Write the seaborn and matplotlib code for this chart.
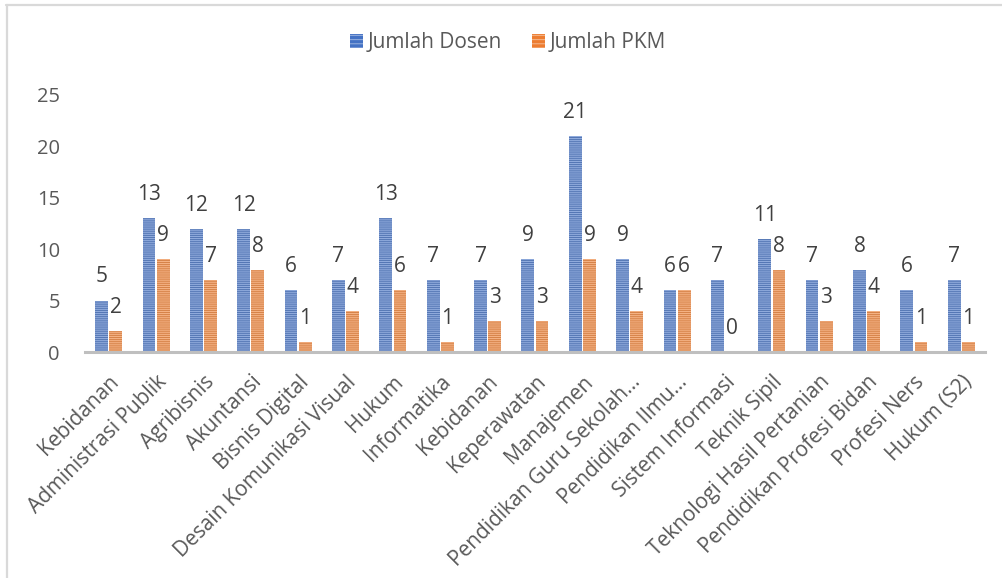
import matplotlib
matplotlib.use("Agg")
import matplotlib.pyplot as plt
from matplotlib.lines import Line2D
from matplotlib.patches import Patch
import seaborn as sns
import pandas as pd

# Study programmes and their counts
programs = [
    "Kebidanan", "Administrasi Publik", "Agribisnis", "Akuntansi",
    "Bisnis Digital", "Desain Komunikasi Visual", "Hukum", "Informatika",
    "Kebidanan", "Keperawatan", "Manajemen", "Pendidikan Guru Sekolah…",
    "Pendidikan Ilmu…", "Sistem Informasi", "Teknik Sipil",
    "Teknologi Hasil Pertanian", "Pendidikan Profesi Bidan", "Profesi Ners",
    "Hukum (S2)",
]
jumlah_dosen = [5, 13, 12, 12, 6, 7, 13, 7, 7, 9, 21, 9, 6, 7, 11, 7, 8, 6, 7]
jumlah_pkm = [2, 9, 7, 8, 1, 4, 6, 1, 3, 3, 9, 4, 6, 0, 8, 3, 4, 1, 1]
series_names = ["Jumlah Dosen", "Jumlah PKM"]
y_ticks = [0, 5, 10, 15, 20, 25]

BLUE = "#4472C4"
ORANGE = "#ED7D31"
BLUE_STRIPE = "#8FAADC"
ORANGE_STRIPE = "#F4B183"
TEXT = "#595959"

sns.set_theme(style="white")
plt.rcParams["font.family"] = ["Open Sans", "DejaVu Sans"]
plt.rcParams["hatch.linewidth"] = 0.8

# Long-form table; an index column keeps the repeated programme name apart
idx = [str(i) for i in range(len(programs))]
df = pd.DataFrame({
    "idx": idx * 2,
    "value": jumlah_dosen + jumlah_pkm,
    "series": [series_names[0]] * len(programs) + [series_names[1]] * len(programs),
})

fig = plt.figure(figsize=(10.03, 5.78), dpi=100)
ax = fig.add_axes([85 / 1003, 1 - 352 / 578, 900 / 1003, (352 - 95) / 578])

sns.barplot(data=df, x="idx", y="value", hue="series", order=idx,
            hue_order=series_names, palette=[BLUE, ORANGE],
            width=0.6, gap=0.1, dodge=True, legend=False, ax=ax)

# Striped fill on every bar, value written above each bar
stripe_for = {0: BLUE_STRIPE, 1: ORANGE_STRIPE}
for k, container in enumerate(ax.containers):
    for bar in container:
        bar.set_hatch("--------")
        bar.set_edgecolor(stripe_for[k])
        bar.set_linewidth(0)
    labels = [f"{v:g}" for v in container.datavalues]
    for bar, lab in zip(container, labels):
        ax.annotate(lab, (bar.get_x() + bar.get_width() / 2, bar.get_height()),
                    xytext=(0, 17), textcoords="offset points",
                    ha="center", va="center", fontsize=15, color="#404040")

ax.set_ylim(0, 25)
ax.set_xlim(-0.5, len(programs) - 0.5)
ax.set_yticks(y_ticks)
ax.set_yticklabels([str(t) for t in y_ticks], fontsize=14.5, color=TEXT)
ax.set_xticks(range(len(programs)))
ax.set_xticklabels(programs, rotation=45, ha="right", rotation_mode="anchor",
                   fontsize=15, color=TEXT)
ax.tick_params(axis="both", length=0)
ax.tick_params(axis="y", pad=18)
ax.tick_params(axis="x", pad=14)
ax.set_xlabel("")
ax.set_ylabel("")
for side in ("top", "right", "left"):
    ax.spines[side].set_visible(False)
ax.spines["bottom"].set_color("#BFBFBF")
ax.spines["bottom"].set_linewidth(2.2)

handles = [
    Patch(facecolor=BLUE, edgecolor=BLUE_STRIPE, hatch="----", linewidth=0),
    Patch(facecolor=ORANGE, edgecolor=ORANGE_STRIPE, hatch="----", linewidth=0),
]
fig.legend(handles, series_names, loc="center", bbox_to_anchor=(508 / 1003, 1 - 43 / 578),
           ncol=2, frameon=False, fontsize=15, labelcolor=TEXT,
           handlelength=0.62, handleheight=0.62, handletextpad=0.25, columnspacing=1.4)

# Chart-area frame
fig.add_artist(Line2D([6 / 1003, 1], [1 - 5 / 578, 1 - 5 / 578], color="#D9D9D9", lw=1.6))
fig.add_artist(Line2D([7 / 1003, 7 / 1003], [0, 1 - 5 / 578], color="#D9D9D9", lw=1.6))

fig.savefig("out.png", dpi=100)
